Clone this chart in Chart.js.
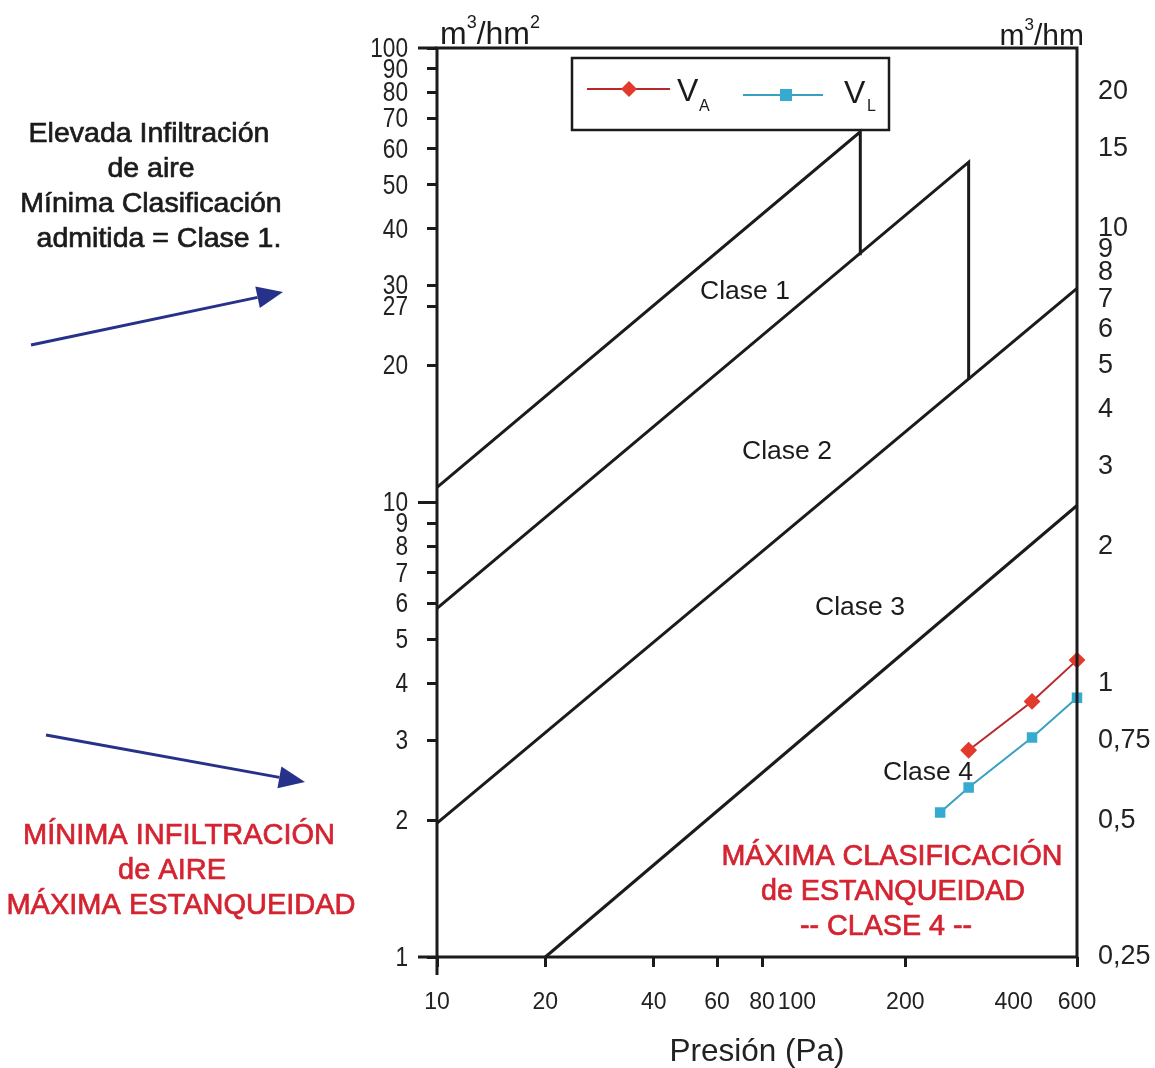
<!DOCTYPE html>
<html>
<head>
<meta charset="utf-8">
<script src="https://cdn.jsdelivr.net/npm/chart.js@4/dist/chart.umd.min.js"></script>
<style>
html,body{margin:0;padding:0;background:#fff;}
#wrap{width:1155px;height:1068px;}
</style>
</head>
<body>
<div id="wrap"><canvas id="c" width="1155" height="1068"></canvas></div>
<script>
// ---- data ----
const classNames = ['Clase 1', 'Clase 2', 'Clase 3', 'Clase 4'];
const class1P = [10, 150, 150];
const class1V = [10.8, 65.4, 35.0];
const class2P = [10, 300, 300];
const class2V = [5.85, 56.1, 18.6];
const class3P = [10, 600];
const class3V = [1.97, 29.6];
const class4P = [20, 600];
const class4V = [1.0, 9.85];
const seriesNames = ['V', 'V'];
const seriesSubs = ['A', 'L'];
const vaP = [300, 450, 600];
const vaV = [2.85, 3.65, 4.5];
const vlP = [250, 300, 450, 600];
const vlV = [2.08, 2.36, 3.04, 3.72];
const xTicks = [10, 20, 40, 60, 80, 100, 200, 400, 600];
const xNoMark = [100, 400];
const yLeftTicks = [1, 2, 3, 4, 5, 6, 7, 8, 9, 10, 20, 27, 30, 40, 50, 60, 70, 80, 90, 100];
const yRightTicks = [0.25, 0.5, 0.75, 1, 2, 3, 4, 5, 6, 7, 8, 9, 10, 15, 20];
const yRightLabels = ['0,25', '0,5', '0,75', '1', '2', '3', '4', '5', '6', '7', '8', '9', '10', '15', '20'];
const xTitle = 'Presión (Pa)';
const leftNote = ['Elevada Infiltración', 'de aire', 'Mínima Clasificación', 'admitida = Clase 1.'];
const leftRedNote = ['MÍNIMA INFILTRACIÓN', 'de AIRE', 'MÁXIMA ESTANQUEIDAD'];
const rightRedNote = ['MÁXIMA CLASIFICACIÓN', 'de ESTANQUEIDAD', '-- CLASE 4 --'];

const FAM = '"Liberation Sans", Arial, Helvetica, sans-serif';
const RED_LINE = '#b8282c', RED_PT = '#e23a2c';
const CY_LINE = '#3a9fc0', CY_PT = '#37abcf';
const INK = '#1b1b1b';
const RED_TXT = '#d42431';

const pts = (P, V) => P.map((p, i) => ({x: p, y: V[i]}));
const classLine = (P, V, name) => ({
  label: name, data: pts(P, V), borderColor: INK, borderWidth: 3,
  pointRadius: 0, tension: 0, fill: false, yAxisID: 'y', clip: false
});

const decorations = {
  id: 'decorations',
  afterDraw(chart) {
    const ctx = chart.ctx;
    const a = chart.chartArea;
    const ys = chart.scales.y;
    ctx.save();
    // frame
    ctx.strokeStyle = INK; ctx.lineWidth = 3; ctx.lineCap = 'butt';
    ctx.strokeRect(a.left, a.top, a.right - a.left, a.bottom - a.top);
    ctx.beginPath();
    ctx.moveTo(a.left, a.bottom); ctx.lineTo(a.left, a.bottom + 18);
    ctx.moveTo(a.left, a.bottom); ctx.lineTo(a.left - 19, a.bottom);
    ctx.moveTo(a.left, a.top); ctx.lineTo(a.left - 19, a.top);
    const y10 = ys.getPixelForValue(10);
    ctx.moveTo(a.left, y10); ctx.lineTo(a.left - 19, y10);
    ctx.stroke();

    // left tick labels, condensed
    ctx.fillStyle = '#222'; ctx.textAlign = 'right'; ctx.textBaseline = 'middle';
    ctx.font = '28px ' + FAM;
    yLeftTicks.forEach(v => {
      const py = ys.getPixelForValue(v);
      ctx.save(); ctx.translate(408, py + 1); ctx.scale(0.81, 1);
      ctx.fillText(String(v), 0, 0); ctx.restore();
    });

    const sup = (parts, x, y, align) => {
      let w = 0;
      parts.forEach(p => { ctx.font = p[1] + 'px ' + FAM; w += ctx.measureText(p[0]).width; });
      let cx = align === 'right' ? x - w : x;
      ctx.textAlign = 'left'; ctx.textBaseline = 'alphabetic';
      parts.forEach(p => {
        ctx.font = p[1] + 'px ' + FAM;
        ctx.fillText(p[0], cx, y + p[2]);
        cx += ctx.measureText(p[0]).width;
      });
    };
    ctx.fillStyle = INK;
    sup([['m', 32, 0], ['3', 18, -16], ['/hm', 32, 0], ['2', 18, -16]], 440, 44, 'left');
    sup([['m', 30, 0], ['3', 17, -15], ['/hm', 30, 0]], 1084, 45, 'right');

    // class labels
    ctx.font = '26.5px ' + FAM; ctx.textAlign = 'center'; ctx.textBaseline = 'middle';
    const clPos = [[745, 292], [787, 452], [860, 608], [928, 773]];
    classNames.forEach((n, i) => ctx.fillText(n, clPos[i][0], clPos[i][1]));

    // legend
    ctx.lineWidth = 2.5; ctx.strokeStyle = INK;
    ctx.strokeRect(572, 58, 317, 72);
    ctx.lineWidth = 2;
    ctx.strokeStyle = RED_LINE;
    ctx.beginPath(); ctx.moveTo(587, 89); ctx.lineTo(670, 89); ctx.stroke();
    ctx.fillStyle = RED_PT;
    ctx.beginPath(); ctx.moveTo(629, 81); ctx.lineTo(637, 89); ctx.lineTo(629, 97); ctx.lineTo(621, 89); ctx.closePath(); ctx.fill();
    ctx.strokeStyle = CY_LINE;
    ctx.beginPath(); ctx.moveTo(743, 95); ctx.lineTo(823, 95); ctx.stroke();
    ctx.fillStyle = CY_PT; ctx.fillRect(780, 89, 12, 12);
    ctx.fillStyle = INK;
    ctx.textAlign = 'left'; ctx.textBaseline = 'alphabetic';
    ctx.font = '32px ' + FAM; ctx.fillText(seriesNames[0], 677, 101);
    ctx.font = '16px ' + FAM; ctx.fillText(seriesSubs[0], 699, 111);
    ctx.font = '32px ' + FAM; ctx.fillText(seriesNames[1], 844, 103);
    ctx.font = '16px ' + FAM; ctx.fillText(seriesSubs[1], 867, 111);

    // x title
    ctx.fillStyle = '#222'; ctx.textAlign = 'center'; ctx.textBaseline = 'middle';
    ctx.font = '31.5px ' + FAM; ctx.fillText(xTitle, 757, 1052);

    // notes (slightly heavy, like the reference)
    const heavy = (t, x, y, col) => {
      ctx.fillStyle = col; ctx.strokeStyle = col; ctx.lineWidth = 0.7;
      ctx.fillText(t, x, y); ctx.strokeText(t, x, y);
    };
    ctx.font = '28.5px ' + FAM;
    const lnX = [149, 151, 151, 159], lnY = [134, 169, 204, 239];
    leftNote.forEach((t, i) => heavy(t, lnX[i], lnY[i], INK));
    ctx.font = '29px ' + FAM;
    const rnX = [179, 172, 181], rnY = [836, 871, 906];
    leftRedNote.forEach((t, i) => heavy(t, rnX[i], rnY[i], RED_TXT));
    ctx.font = '28.7px ' + FAM;
    const brX = [892, 893, 886], brY = [857, 892, 927];
    rightRedNote.forEach((t, i) => heavy(t, brX[i], brY[i], RED_TXT));

    // arrows
    const arrow = (x1, y1, x2, y2) => {
      const ang = Math.atan2(y2 - y1, x2 - x1), L = 26, W = 11;
      const bx = x2 - L * Math.cos(ang), by = y2 - L * Math.sin(ang);
      ctx.strokeStyle = '#26318a'; ctx.fillStyle = '#26318a'; ctx.lineWidth = 3;
      ctx.beginPath(); ctx.moveTo(x1, y1); ctx.lineTo(bx, by); ctx.stroke();
      ctx.beginPath(); ctx.moveTo(x2, y2);
      ctx.lineTo(bx + W * Math.sin(ang), by - W * Math.cos(ang));
      ctx.lineTo(bx - W * Math.sin(ang), by + W * Math.cos(ang));
      ctx.closePath(); ctx.fill();
    };
    arrow(31, 345, 283, 292);
    arrow(46, 735, 305, 782);
    ctx.restore();
  }
};

new Chart(document.getElementById('c'), {
  type: 'line',
  data: {
    datasets: [
      classLine(class1P, class1V, classNames[0]),
      classLine(class2P, class2V, classNames[1]),
      classLine(class3P, class3V, classNames[2]),
      classLine(class4P, class4V, classNames[3]),
      {label: 'VA', data: pts(vaP, vaV), borderColor: RED_LINE, borderWidth: 2,
       pointStyle: 'rectRot', pointRadius: 7, pointBackgroundColor: RED_PT, pointBorderColor: RED_PT,
       tension: 0, yAxisID: 'y', clip: false},
      {label: 'VL', data: pts(vlP, vlV), borderColor: CY_LINE, borderWidth: 2,
       pointStyle: 'rect', pointRadius: 6, pointBackgroundColor: CY_PT, pointBorderColor: CY_PT,
       tension: 0, yAxisID: 'y', clip: false}
    ]
  },
  options: {
    responsive: false, animation: false, devicePixelRatio: 1,
    layout: {padding: {left: 0, right: 0, top: 48, bottom: 0}},
    plugins: {legend: {display: false}, tooltip: {enabled: false}, title: {display: false}},
    scales: {
      x: {
        type: 'logarithmic', position: 'bottom', min: 10, max: 600,
        afterBuildTicks: s => { s.ticks = xTicks.map(v => ({value: v})); },
        afterFit: s => { s.height = 111; },
        ticks: {autoSkip: false, maxRotation: 0, minRotation: 0, padding: 22, color: '#222',
                font: {size: 23, family: FAM}, callback: v => String(v)},
        grid: {drawOnChartArea: false, drawTicks: true, tickLength: 10, tickWidth: 3,
               tickColor: c => (c.tick && xNoMark.includes(c.tick.value)) ? 'rgba(0,0,0,0)' : INK},
        border: {display: false}
      },
      y: {
        type: 'logarithmic', position: 'left', min: 1, max: 100,
        afterBuildTicks: s => { s.ticks = yLeftTicks.map(v => ({value: v})); },
        afterFit: s => { s.width = 437; },
        ticks: {autoSkip: false, padding: 19, color: 'rgba(0,0,0,0)',
                font: {size: 27, family: FAM}, callback: v => String(v)},
        grid: {drawOnChartArea: false, drawTicks: true, tickLength: 10, tickWidth: 3, tickColor: INK},
        border: {display: false}
      },
      y2: {
        type: 'logarithmic', position: 'right', min: 0.25, max: 25,
        afterBuildTicks: s => { s.ticks = yRightTicks.map(v => ({value: v})); },
        afterFit: s => { s.width = 78; },
        ticks: {autoSkip: false, padding: 21, color: '#222',
                font: {size: 27, family: FAM}, callback: (v, i) => yRightLabels[i]},
        grid: {drawOnChartArea: false, drawTicks: false},
        border: {display: false}
      }
    }
  },
  plugins: [decorations]
});
</script>
</body>
</html>
